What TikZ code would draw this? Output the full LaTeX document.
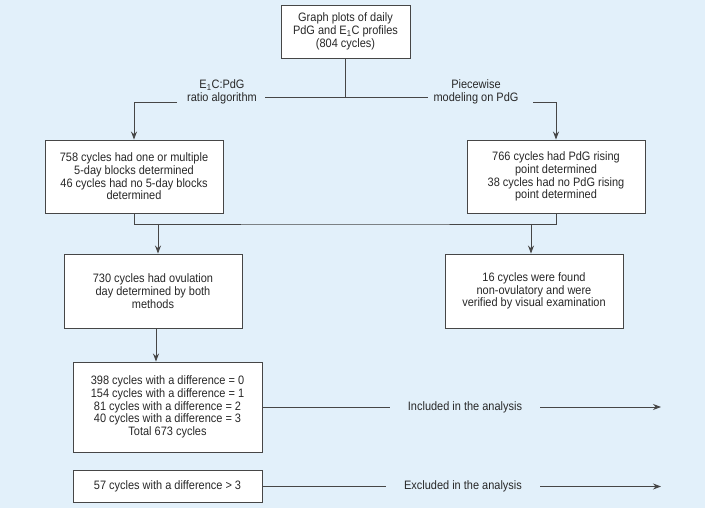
\documentclass[tikz,border=0pt]{standalone}
\usepackage{fontspec}
\setmainfont[FakeStretch=0.9]{Liberation Sans}
\usetikzlibrary{arrows.meta}
\definecolor{bg}{RGB}{226,240,250}
\definecolor{txt}{RGB}{40,40,40}
\definecolor{edge}{RGB}{70,70,70}
\tikzset{
  box/.style={draw=edge, line width=0.9pt, fill=white, align=center, text=txt,
    font=\fontsize{12.2}{12.7}\selectfont, inner sep=0pt},
  lbl/.style={align=center, text=txt, font=\fontsize{12.2}{12.7}\selectfont, inner sep=0pt},
  conn/.style={draw=edge, line width=0.9pt},
  arr/.style={conn, -{Stealth[length=8pt,width=6pt]}}
}
\begin{document}
\begin{tikzpicture}[x=1pt,y=-1pt]
\path[fill=bg] (0,0) rectangle (705,508);
\useasboundingbox (0,0) rectangle (705,508);

% boxes
\node[box, minimum width=129pt, minimum height=53pt] (top) at (345.5,31.5)
  {Graph plots of daily\\PdG and E\textsubscript{1}C profiles\\(804 cycles)};
\node[box, minimum width=178pt, minimum height=73pt] (lone) at (134,176.5)
  {758 cycles had one or multiple\\5-day blocks determined\\46 cycles had no 5-day blocks\\determined};
\node[box, minimum width=178pt, minimum height=73pt] (rone) at (556,176.5)
  {766 cycles had PdG rising\\point determined\\38 cycles had no PdG rising\\point determined};
\node[box, minimum width=178pt, minimum height=74pt] (ltwo) at (153,291)
  {730 cycles had ovulation\\day determined by both\\methods};
\node[box, minimum width=178pt, minimum height=74pt] (rtwo) at (534,291)
  {16 cycles were found\\non-ovulatory and were\\verified by visual examination};
\node[box, minimum width=189pt, minimum height=90pt] (bone) at (167.5,407)
  {398 cycles with a difference = 0\\154 cycles with a difference = 1\\81 cycles with a difference = 2\\40 cycles with a difference = 3\\Total 673 cycles};
\node[box, minimum width=189pt, minimum height=32pt] (btwo) at (167.5,486.5)
  {57 cycles with a difference > 3};

% labels
\node[lbl] (llab) at (222,92) {E\textsubscript{1}C:PdG\\ratio algorithm};
\node[lbl] (rlab) at (476,92) {Piecewise\\modeling on PdG};
\node[lbl, inner xsep=18pt] (inc) at (465,407) {Included in the analysis};
\node[lbl, inner xsep=18pt] (exc) at (463,486.5) {Excluded in the analysis};

% coordinates
\coordinate (j) at (345.5,97);
\coordinate (hl) at (265,97);
\coordinate (hr) at (428,97);
\coordinate (la) at (177,102);
\coordinate (ra) at (533,102);
\coordinate (jm) at (345,224);
\coordinate (da) at (158,224);
\coordinate (db) at (531,224);
\coordinate (dc) at (156,328);
\coordinate (ei) at (661,407);
\coordinate (ee) at (661,486.5);

% connectors
\draw[conn] (top.south) -- (j);
\draw[conn] (hl) -- (hr);
\draw[arr] (la) -| (lone.north);
\draw[arr] (ra) -| (rone.north);
\draw[conn] (lone.south) |- (jm) -| (rone.south);
\draw[arr] (da) -- (da |- ltwo.north);
\draw[arr] (db) -- (db |- rtwo.north);
\draw[arr] (dc) -- (dc |- bone.north);
\draw[conn] (bone.east) -- (inc.west);
\draw[arr] (inc.east) -- (ei);
\draw[conn] (btwo.east) -- (exc.west);
\draw[arr] (exc.east) -- (ee);
\end{tikzpicture}
\end{document}
